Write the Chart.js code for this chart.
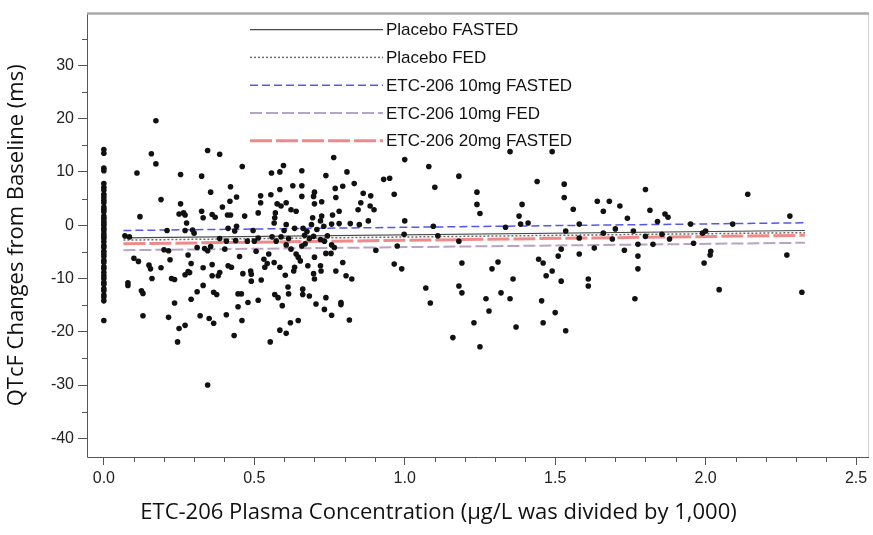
<!DOCTYPE html>
<html>
<head>
<meta charset="utf-8">
<script src="https://cdn.jsdelivr.net/npm/chart.js@4.4.1/dist/chart.umd.min.js"></script>
<style>
  html, body { margin: 0; padding: 0; background: #fff; }
  #wrap { width: 873px; height: 535px; }
</style>
</head>
<body>
<div id="wrap"><canvas id="qtcChart" width="873" height="535"></canvas></div>
<script>
// Observations at zero concentration (x = 0)
const zeroConcY = [14.2, 13.5, 10.7, 10.2, 7.8, 7.1, 6.6, 5.8, 5.3, 4.7, 4.2, 3.4, 3.0, 2.5, 1.7, 1.3,
    0.8, 0.4, 0.0, -0.6, -1.0, -1.6, -2.1, -2.5, -3.1, -3.8, -4.2, -4.9, -5.4, -5.9, -6.6, -7.0,
    -7.8, -8.2, -8.9, -9.5, -10.0, -10.7, -11.1, -11.9, -12.3, -13.1, -13.5, -14.2, -17.9];

// Observations with measurable concentration: [conc, QTcF change]
const concPoints = [
    [0.07, -2.0], [0.085, -2.2], [0.08, -10.8], [0.08, -11.3], [0.11, 9.8], [0.12, 1.6], [0.1, -6.2],
    [0.115, -6.8], [0.125, -12.3], [0.13, -12.8], [0.13, -17.0], [0.15, -7.5], [0.155, -8.2], [0.16, -10.0],
    [0.158, 13.4], [0.173, 19.6], [0.173, 11.5], [0.19, 4.8], [0.19, -8.0], [0.2, -4.6], [0.21, -1.0],
    [0.215, -4.8], [0.22, -6.5], [0.225, -10.0], [0.235, -10.2], [0.215, -17.3], [0.235, -14.6],
    [0.245, -21.9], [0.25, -19.4], [0.25, 2.1], [0.255, 9.5], [0.255, 4.0], [0.265, 2.3], [0.27, 1.9],
    [0.275, 0.4], [0.27, -1.0], [0.27, -9.3], [0.28, -8.7], [0.285, -8.9], [0.28, -5.6], [0.29, -7.2],
    [0.29, -13.9], [0.27, -18.8], [0.295, -0.9], [0.325, 9.2], [0.325, 2.6], [0.33, 1.4], [0.335, -4.4],
    [0.345, -4.8], [0.33, -11.3], [0.345, -30.0], [0.345, 14.0], [0.355, 6.2], [0.36, 2.0], [0.37, 1.5],
    [0.36, -7.4], [0.365, -12.6], [0.35, -17.5], [0.365, -18.4], [0.3, -1.5], [0.31, -12.5],
    [0.32, -17.0], [0.355, -4.0], [0.36, -9.5], [0.31, -4.2], [0.33, -8.0],
    [0.385, 13.3], [0.46, 11.0], [0.557, 9.8], [0.585, 10.0], [0.597, 11.2], [0.658, 10.2], [0.738, 9.3],
    [0.764, 12.7], [0.808, 10.0], [0.832, 7.8], [0.794, 7.3], [0.769, 6.9], [0.70, 6.2], [0.658, 7.4],
    [0.628, 7.4], [0.585, 6.7], [0.555, 5.7], [0.521, 5.5], [0.521, 4.2], [0.421, 7.2], [0.441, 5.3],
    [0.419, 4.5], [0.394, 3.4], [0.411, 1.9], [0.421, 1.9], [0.468, 1.7], [0.513, 2.3], [0.576, 4.0],
    [0.589, 3.6], [0.606, 4.2], [0.622, 2.9], [0.639, 2.6], [0.658, 5.4], [0.697, 5.4], [0.70, 4.0],
    [0.724, 4.4], [0.694, 1.4], [0.724, 1.7], [0.76, 1.9], [0.782, 2.6], [0.771, 5.2], [0.854, 4.2],
    [0.845, 2.9], [0.862, 6.0], [0.887, 5.5], [0.885, 3.6], [0.898, 2.9], [0.879, 0.8], [0.849, 0.1],
    [0.819, 0.3], [0.782, 0.3], [0.757, 0.2], [0.731, -0.2], [0.72, 0.8], [0.69, 0.1], [0.662, -0.6],
    [0.634, -0.6], [0.599, -1.0], [0.566, 0.4], [0.568, 1.4], [0.57, 2.3], [0.606, 0.1], [0.496, -1.0],
    [0.441, -0.2], [0.435, -1.1], [0.385, -2.5], [0.407, -3.0], [0.438, -2.9], [0.513, -2.4],
    [0.559, -2.2], [0.573, -3.0], [0.614, -2.5], [0.667, -1.9], [0.683, -2.5], [0.697, -2.1],
    [0.72, -2.7], [0.733, -3.0], [0.757, -3.7], [0.766, -4.2], [0.904, -4.7], [0.738, -5.3],
    [0.755, -5.3], [0.658, -3.9], [0.622, -4.5], [0.639, -5.4], [0.646, -6.0], [0.653, -6.7],
    [0.70, -6.0], [0.678, -7.6], [0.634, -7.9], [0.631, -8.6], [0.72, -7.6], [0.722, -8.6],
    [0.794, -7.0], [0.771, -8.6], [0.805, -9.5], [0.824, -10.1], [0.697, -9.1], [0.70, -10.1],
    [0.603, -9.4], [0.585, -7.9], [0.566, -7.0], [0.543, -7.2], [0.535, -7.9], [0.532, -6.4],
    [0.548, -5.4], [0.506, -4.9], [0.488, -8.6], [0.49, -9.2], [0.462, -9.1], [0.49, -10.5],
    [0.523, -10.3], [0.451, -5.9], [0.413, -7.6], [0.424, -7.9], [0.385, -8.9], [0.38, -9.5],
    [0.402, -4.5], [0.375, -13.0], [0.446, -12.9], [0.457, -12.9], [0.446, -15.3], [0.479, -14.5],
    [0.513, -14.1], [0.568, -13.0], [0.579, -13.6], [0.593, -15.1], [0.612, -11.6], [0.614, -12.9],
    [0.661, -12.0], [0.661, -13.0], [0.683, -13.3], [0.738, -13.6], [0.788, -14.5], [0.788, -14.9],
    [0.705, -14.8], [0.733, -15.8], [0.407, -16.8], [0.459, -17.9], [0.620, -18.3], [0.646, -17.9],
    [0.757, -16.9], [0.816, -17.8], [0.585, -19.7], [0.606, -20.3], [0.433, -20.7], [0.553, -21.9],
    [0.675, -1.2], [0.708, -0.8], [0.743, -2.0], [0.589, -2.2], [0.477, -3.0], [0.413, -0.6],
    [0.5, -3.0], [0.669, -3.5], [0.606, -3.7],
    [0.93, 8.6], [0.95, 8.8], [0.965, 5.8], [1.0, 0.8], [0.998, -1.7], [0.975, -3.9], [0.965, -7.3],
    [0.99, -8.2], [1.07, -11.8], [1.085, -14.6], [1.11, -2.0], [1.0, 12.3], [1.08, 11.0], [1.1, 7.1],
    [1.095, -0.2], [1.18, 9.2], [1.18, -3.0], [1.24, 6.2], [1.24, 3.9], [1.18, -11.4], [1.25, 2.2],
    [1.19, -7.1], [1.16, -21.1], [1.23, -18.3], [1.25, -22.8], [1.27, -13.8], [1.28, -16.1],
    [1.19, -12.7], [1.29, -8.2], [1.31, -6.9], [1.335, -0.4], [1.36, -10.1], [1.32, -12.7],
    [1.35, -13.8], [1.37, -19.1], [1.35, 13.8], [1.39, 3.9], [1.38, 1.7], [1.385, 0.2], [1.41, 0.4],
    [1.44, 8.2], [1.445, -6.4], [1.46, -7.1], [1.47, -9.5], [1.455, -14.2], [1.46, -18.3], [1.5, -16.4],
    [1.49, -8.6], [1.51, -5.8], [1.52, -4.5], [1.52, -10.5], [1.53, 7.7], [1.53, 5.2], [1.535, -19.8],
    [1.49, 13.8], [1.535, -1.1], [1.56, 3.0], [1.58, 0.2], [1.58, -2.4], [1.58, -5.4], [1.61, -10.1],
    [1.61, -11.4], [1.63, -4.3], [1.64, 4.5], [1.66, 2.6], [1.66, -1.5], [1.69, -2.6], [1.70, -0.7],
    [1.68, 4.5], [1.715, 3.6], [1.74, 1.3], [1.73, -4.7], [1.76, -1.1], [1.775, -3.6], [1.775, -5.8],
    [1.8, -2.1], [1.815, 2.8], [1.80, 6.7], [1.825, -3.6], [1.84, 0.7], [1.765, -13.8], [1.775, -8.2],
    [1.865, 2.1], [1.875, 1.5], [1.88, -2.6], [1.855, -1.7], [1.95, 0.2], [1.96, -3.4], [1.99, -1.5],
    [1.995, -7.1], [2.015, -5.6], [2.045, -12.1], [2.09, 0.2], [2.14, 5.8], [2.28, 1.7], [2.0, -1.1],
    [2.017, -4.9], [2.27, -5.6], [2.32, -12.6]
];

// Fitted lines: concentration range and predicted change at each end
const fitX = [0.065, 2.33];
const placeboFastedY = [-2.4, -1.0];
const placeboFedY = [-2.8, -1.4];
const etc10FastedY = [-1.0, 0.45];
const etc10FedY = [-4.7, -3.3];
const etc20FastedY = [-3.5, -1.9];

const seriesNames = ['Placebo FASTED', 'Placebo FED', 'ETC-206 10mg FASTED', 'ETC-206 10mg FED', 'ETC-206 20mg FASTED'];
const xTitle = 'ETC-206 Plasma Concentration (μg/L was divided by 1,000)';
const yTitle = 'QTcF Changes from Baseline (ms)';

const xTicksMinor = 0.1;
const yTicksMinor = 5;

const tickFont = { family: "'Liberation Sans', Arial, sans-serif", size: 16 };

function fitLine(ys) {
    return fitX.map((x, i) => ({ x: x, y: ys[i] }));
}

function lineSet(label, ys, color, width, dash) {
    return {
        type: 'line',
        label: label,
        data: fitLine(ys),
        showLine: true,
        borderColor: color,
        borderWidth: width,
        borderDash: dash,
        pointRadius: 0,
        fill: false,
        order: 1
    };
}

// Box around the plot, minor ticks, x title and the in-plot legend
const framePlugin = {
    id: 'frame',
    afterDraw(chart) {
        const { ctx, chartArea: a, scales } = chart;
        ctx.save();
        // frame
        ctx.lineWidth = 1;
        ctx.strokeStyle = '#d0d0d0';
        ctx.beginPath(); ctx.moveTo(a.right - 0.5, a.top); ctx.lineTo(a.right - 0.5, a.bottom); ctx.stroke();
        ctx.strokeStyle = '#555';
        ctx.beginPath();
        ctx.moveTo(a.left + 0.5, a.top); ctx.lineTo(a.left + 0.5, a.bottom + 0.5); ctx.lineTo(a.right, a.bottom + 0.5);
        ctx.stroke();
        ctx.strokeStyle = '#a8a8a8';
        ctx.lineWidth = 2.5;
        ctx.beginPath(); ctx.moveTo(a.left, a.top); ctx.lineTo(a.right, a.top); ctx.stroke();

        // minor ticks
        ctx.lineWidth = 1;
        ctx.strokeStyle = '#555';
        const xs = scales.x, ys = scales.y;
        for (let v = 0; v <= xs.max + 1e-9; v += xTicksMinor) {
            const r = Math.round(v * 10) / 10;
            if (Math.abs(r * 2 - Math.round(r * 2)) < 1e-6) continue;
            const px = Math.round(xs.getPixelForValue(r)) + 0.5;
            ctx.beginPath(); ctx.moveTo(px, a.bottom); ctx.lineTo(px, a.bottom + 5); ctx.stroke();
        }
        for (let v = -40; v <= ys.max; v += yTicksMinor) {
            if (v % 10 === 0) continue;
            const py = Math.round(ys.getPixelForValue(v)) + 0.5;
            ctx.beginPath(); ctx.moveTo(a.left, py); ctx.lineTo(a.left - 5, py); ctx.stroke();
        }

        // x axis title, centred on the page as in the source figure
        ctx.font = "22px 'Open Sans', sans-serif";
        ctx.fillStyle = '#111';
        ctx.textAlign = 'center';
        ctx.textBaseline = 'middle';
        ctx.fillText(xTitle, chart.width / 2 + 2, 513);

        // legend
        const x0 = a.left + 163, x1 = a.left + 296;
        let y = a.top + 16;
        ctx.font = "17px 'Liberation Sans', Arial, sans-serif";
        ctx.textAlign = 'left';
        chart.data.datasets.forEach(ds => {
            if (ds.type !== 'line') return;
            ctx.save();
            ctx.strokeStyle = ds.borderColor;
            ctx.lineWidth = ds.borderWidth;
            ctx.setLineDash(ds.borderDash || []);
            ctx.beginPath(); ctx.moveTo(x0, y); ctx.lineTo(x1, y); ctx.stroke();
            ctx.restore();
            ctx.fillText(ds.label, x1 + 3, y + 1);
            y += 27.8;
        });
        ctx.restore();
    }
};

const ctx = document.getElementById('qtcChart').getContext('2d');
new Chart(ctx, {
    type: 'scatter',
    data: {
        datasets: [
            {
                label: 'observed',
                data: zeroConcY.map(v => ({ x: 0, y: v })).concat(concPoints.map(p => ({ x: p[0], y: p[1] }))),
                backgroundColor: '#111',
                borderColor: '#111',
                pointRadius: 2.8,
                pointBorderWidth: 0,
                order: 0
            },
            lineSet(seriesNames[0], placeboFastedY, '#4a4a4a', 1.2, []),
            lineSet(seriesNames[1], placeboFedY, '#6a6a6a', 1.5, [2, 2]),
            lineSet(seriesNames[2], etc10FastedY, '#5656ee', 1.5, [8, 4]),
            lineSet(seriesNames[3], etc10FedY, '#b9a3c4', 2, [12, 4]),
            lineSet(seriesNames[4], etc20FastedY, '#f08a8a', 3, [22, 4])
        ]
    },
    options: {
        responsive: false,
        animation: false,
        devicePixelRatio: 1,
        layout: { padding: { top: 11, right: 1, left: 0, bottom: 0 } },
        plugins: {
            legend: { display: false },
            tooltip: { enabled: false }
        },
        scales: {
            x: {
                type: 'linear',
                min: -0.056,
                max: 2.543,
                afterFit: s => { s.height = 78; },
                border: { display: false },
                grid: { drawOnChartArea: false, tickLength: 8, color: '#555' },
                ticks: {
                    stepSize: 0.5,
                    includeBounds: false,
                    padding: 4,
                    color: '#222',
                    font: tickFont,
                    maxRotation: 0,
                    callback: v => v.toFixed(1)
                }
            },
            y: {
                type: 'linear',
                min: -43.5,
                max: 39.7,
                afterFit: s => { s.width = 87; },
                border: { display: false },
                grid: { drawOnChartArea: false, tickLength: 9, color: '#555' },
                ticks: {
                    stepSize: 10,
                    includeBounds: false,
                    padding: 4,
                    color: '#222',
                    font: tickFont
                },
                title: {
                    display: true,
                    text: yTitle,
                    color: '#111',
                    font: { family: "'Open Sans', sans-serif", size: 22 },
                    padding: { top: 4, bottom: 0 }
                }
            }
        }
    },
    plugins: [framePlugin]
});
</script>
</body>
</html>
